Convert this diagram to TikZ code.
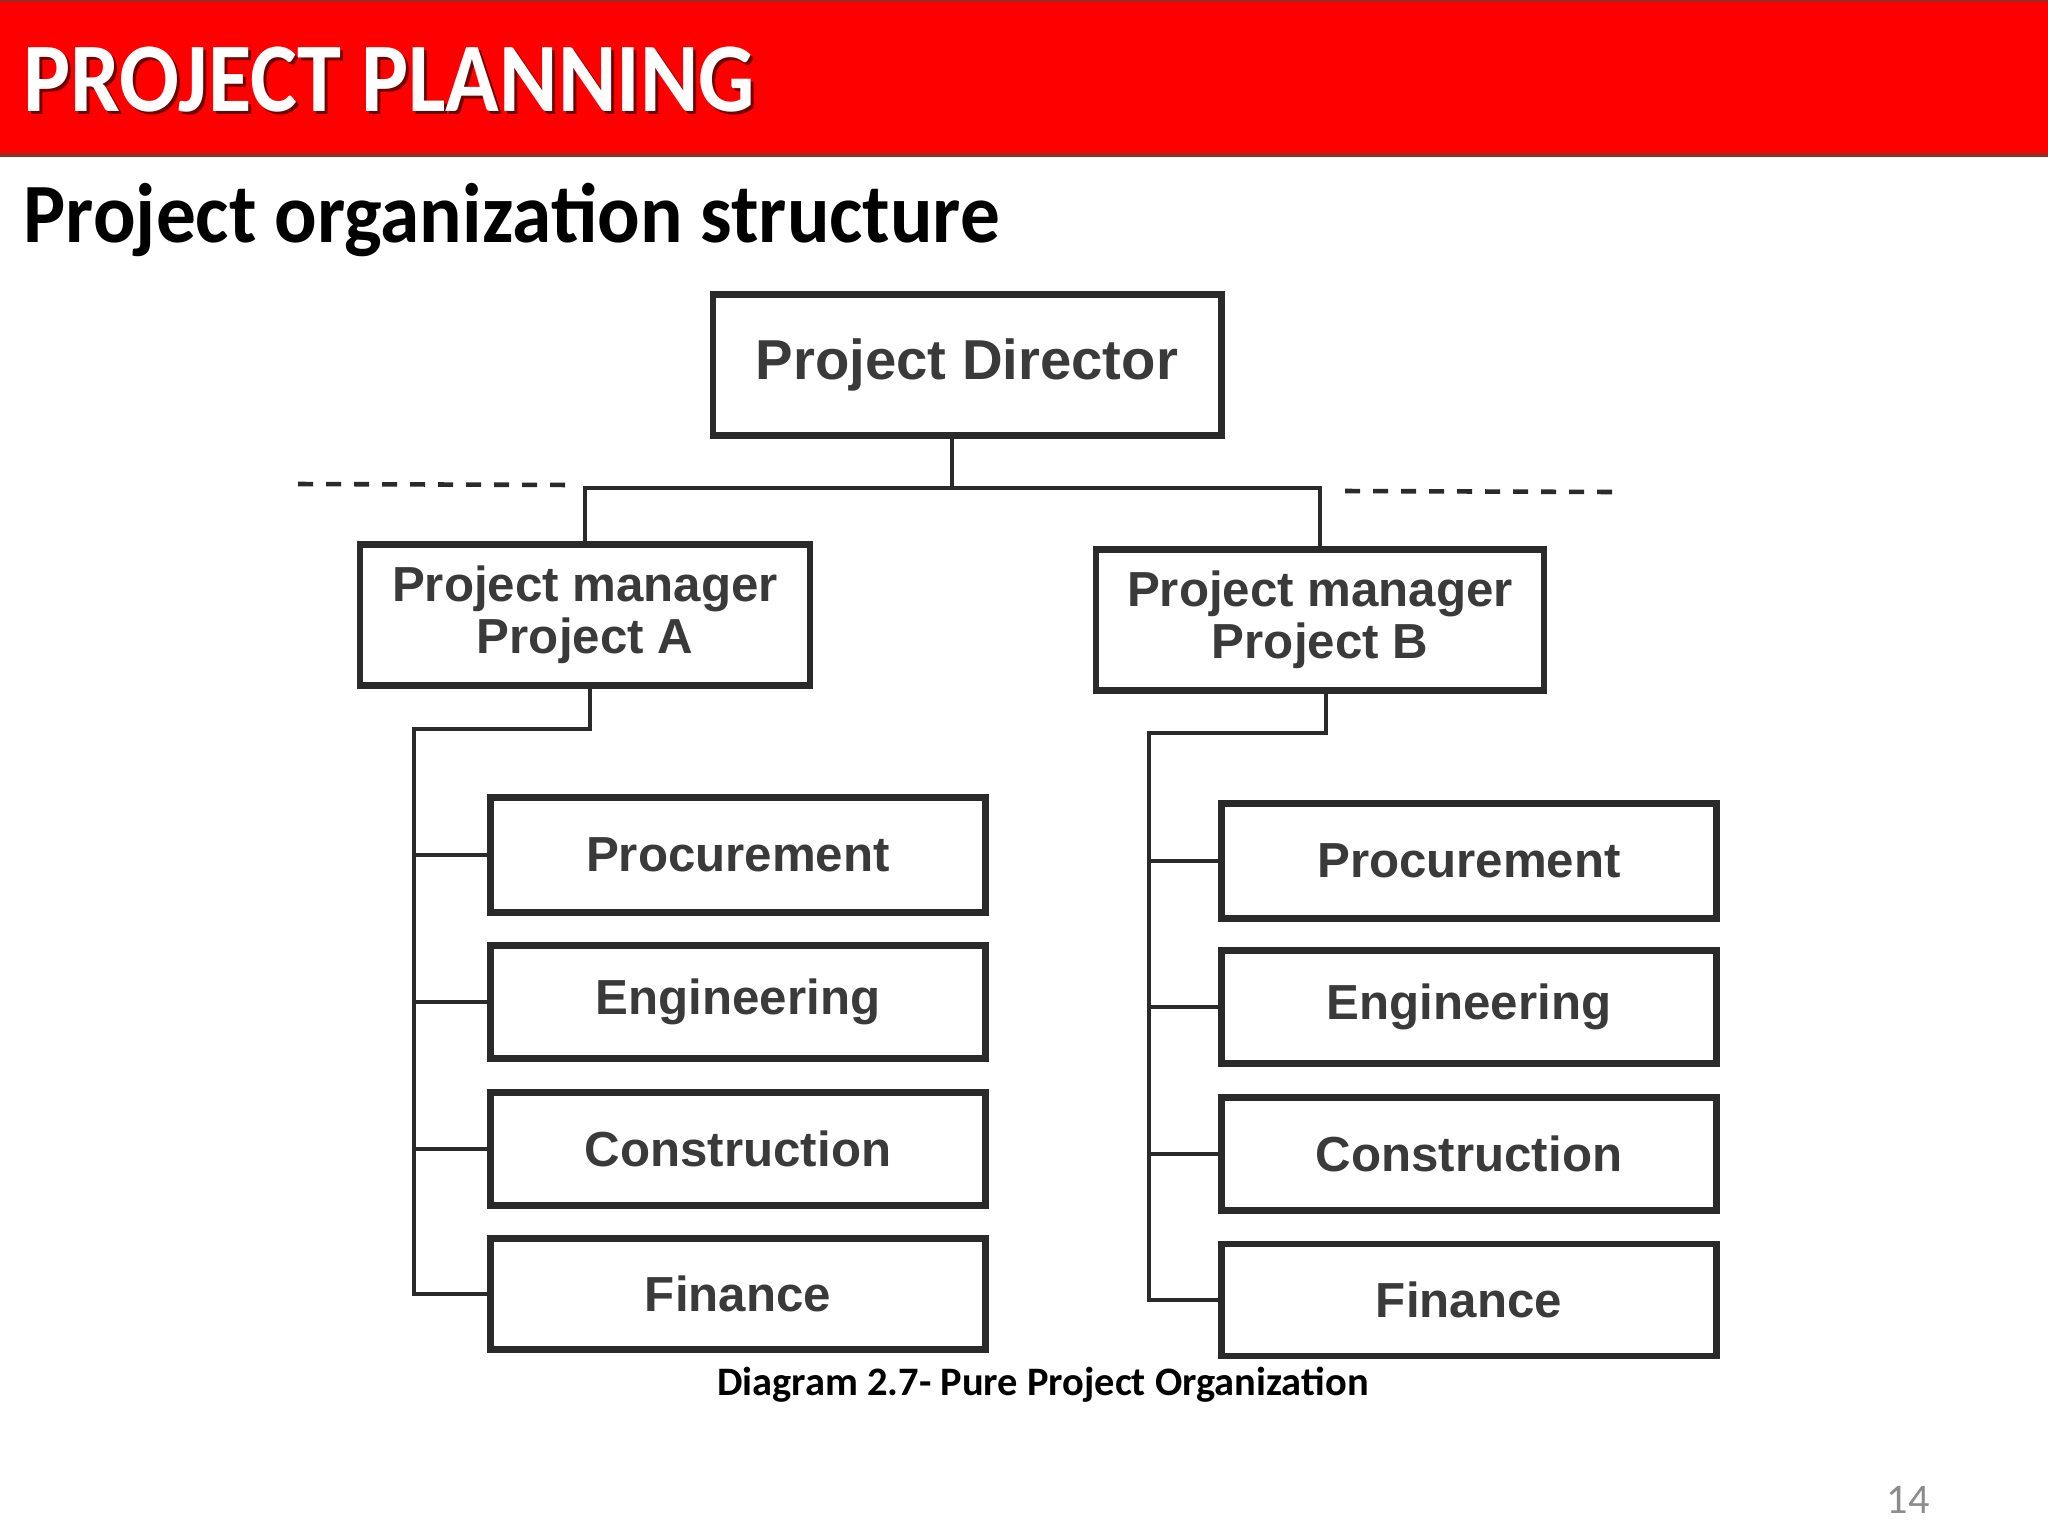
\documentclass[tikz,border=0pt]{standalone}
\usepackage{fontspec}
\setmainfont{Carlito}
\newfontfamily\arialfont{Liberation Sans}
\newfontfamily\titlefont[FakeStretch=0.9]{Carlito}
\newfontfamily\subtitlefont[FakeStretch=0.94]{Carlito}
\usetikzlibrary{calc}
\definecolor{bannerred}{RGB}{255,0,0}
\definecolor{bannerdark}{RGB}{150,45,35}
\definecolor{ink}{RGB}{42,42,42}
\definecolor{boxtext}{RGB}{58,58,58}
\definecolor{pagegray}{RGB}{140,140,140}
\tikzset{
  orgbox/.style={draw=ink, line width=1.9pt, fill=white, inner sep=0pt, align=center,
    text=boxtext, font=\arialfont\bfseries\fontsize{14}{14.8}\selectfont},
  deptbox/.style={orgbox, minimum width=4.95cm, minimum height=1.13cm},
  conn/.style={draw=ink, line width=1.3pt},
  dashconn/.style={draw=ink, line width=1.3pt, dash pattern=on 0.15cm off 0.13cm},
}
\begin{document}
\begin{tikzpicture}[x=0.01cm, y=-0.01cm]
\useasboundingbox (0,0) rectangle (2048,1536);
\fill[white] (0,0) rectangle (2048,1536);
% banner
\fill[bannerred] (0,0) rectangle (2048,157);
\draw[bannerdark, line width=1.2pt] (0,155) -- (2048,155);
\draw[bannerdark, line width=0.8pt] (0,1) -- (2048,1);
\node[anchor=base west, inner sep=0pt, text=black!55!bannerred, font=\titlefont\bfseries\fontsize{28}{30}\selectfont] (titleshadow) at (26,114) {PROJECT PLANNING};
\node[anchor=base west, inner sep=0pt, text=white, font=\titlefont\bfseries\fontsize{28}{30}\selectfont] (title) at (23,111) {PROJECT PLANNING};
\node[anchor=base west, inner sep=0pt, text=black, font=\subtitlefont\bfseries\fontsize{24}{26}\selectfont] (subtitle) at (23,242) {Project organization structure};

% boxes
\node[orgbox, minimum width=5.08cm, minimum height=1.41cm, font=\arialfont\bfseries\fontsize{16}{18}\selectfont] (dir) at (967,365) {Project Director};
\node[orgbox, minimum width=4.50cm, minimum height=1.41cm] (pma) at (585,615) {Project manager\\Project A};
\node[orgbox, minimum width=4.48cm, minimum height=1.41cm] (pmb) at (1320,620) {Project manager\\Project B};

\node[deptbox, minimum height=1.15cm] (proca) at (738,855) {Procurement};
\node[deptbox] (enga) at (738,1002) {Engineering};
\node[deptbox] (cona) at (738,1149) {Construction};
\node[deptbox, minimum height=1.11cm] (fina) at (738,1294) {Finance};

\node[deptbox, minimum height=1.15cm] (procb) at (1469,861) {Procurement};
\node[deptbox] (engb) at (1469,1007) {Engineering};
\node[deptbox] (conb) at (1469,1154) {Construction};
\node[deptbox, minimum height=1.12cm] (finb) at (1469,1300) {Finance};

% connectors
\coordinate (bus) at (952,488);
\coordinate (dashAl) at (298,484);
\coordinate (dashAr) at (575,485);
\coordinate (dashBl) at (1345,491);
\coordinate (dashBr) at (1613,492);
\draw[conn] (dir.south -| bus) -- (bus);
\draw[conn] (pma.north) |- (bus) -| (pmb.north);
\draw[dashconn] (dashAl) -- (dashAr);
\draw[dashconn] (dashBl) -- (dashBr);

\coordinate (busA) at (414,729);
\draw[conn] (pma.south -| 590,0) |- (busA) |- (fina.west);
\foreach \b in {proca,enga,cona}{\draw[conn] (busA |- \b.west) -- (\b.west);}

\coordinate (busB) at (1149,733);
\draw[conn] (pmb.south -| 1326,0) |- (busB) |- (finb.west);
\foreach \b in {procb,engb,conb}{\draw[conn] (busB |- \b.west) -- (\b.west);}

% caption and page number
\node[anchor=base, inner sep=0pt, text=black, font=\bfseries\fontsize{11.5}{13}\selectfont] (caption) at (1043,1395) {Diagram 2.7- Pure Project Organization};
\node[anchor=base, inner sep=0pt, text=pagegray, font=\fontsize{12}{14}\selectfont] (page) at (1908,1513) {14};
\end{tikzpicture}
\end{document}
